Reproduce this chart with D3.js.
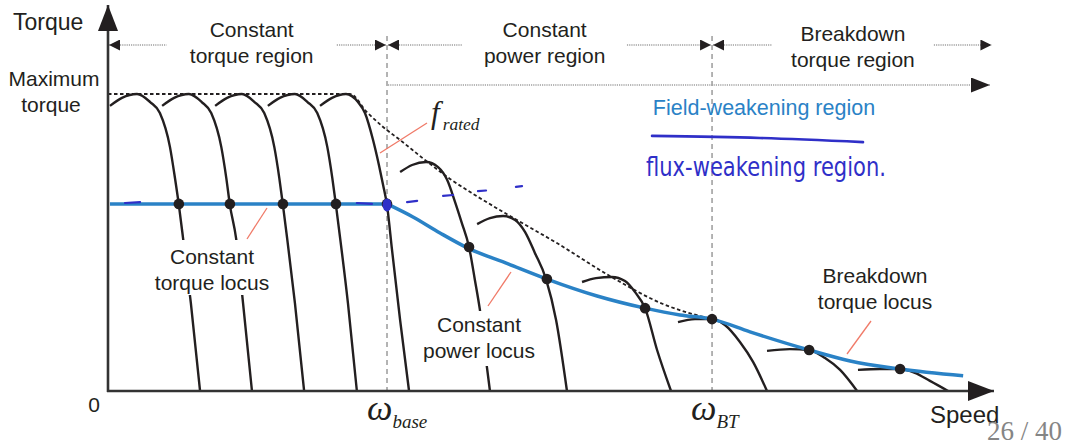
<!DOCTYPE html>
<html>
<head>
<meta charset="utf-8">
<script src="https://cdn.jsdelivr.net/npm/d3@7"></script>
<style>
  body { margin: 0; background: #fff; }
  svg { display: block; font-family: "Liberation Sans", Arial, sans-serif; }
</style>
</head>
<body>
<svg width="1065" height="447"></svg>
<script>
// speed in % of base speed, torque in % of maximum torque
const speedBase = 100
const speedBT = 216.5
const maxTorque = 100
const ratedTorque = 63

// torque-speed curves, one per supply frequency
const torqueCurves = [
  [[0.7, 96], [5, 98.7], [10.4, 100], [15.1, 97.3], [18.6, 93.6], [22.2, 82.2], [24, 71.7], [25.4, 62.6], [26.9, 51.5], [29.7, 29.6], [33, 0]],
  [[19.4, 96], [23.7, 98.7], [29, 100], [33.6, 97.3], [37, 93.6], [40.6, 82.2], [42.4, 71.7], [43.7, 62.6], [45.9, 51.5], [48.4, 29.6], [51.6, 0]],
  [[38.4, 96], [42.7, 98.7], [48, 100], [52.5, 97.3], [56, 93.6], [59.6, 82.2], [61.4, 71.7], [62.7, 62.6], [64.2, 51.5], [67, 29.6], [70.3, 0]],
  [[57.3, 96], [61.6, 98.7], [67, 100], [71.5, 97.3], [75, 93.6], [78.6, 82.2], [80.4, 71.7], [81.7, 62.6], [83.2, 51.5], [86, 29.6], [89.2, 0]],
  [[76, 96], [80.3, 98.7], [85.3, 100], [89.6, 97.3], [92.1, 93.6], [95, 84.5], [97.1, 76.1], [98.6, 69.4], [100, 62.6], [101.8, 47.5], [104.7, 23.9], [107.9, 0]],
  [[104.7, 73.7], [109, 76.1], [114, 77.1], [118.3, 75.4], [121.5, 71.2], [124.4, 63.6], [126.8, 56.6], [129.4, 48.5], [131.5, 37.4], [133.3, 27.3], [135.8, 8.1], [136.9, 0]],
  [[132.3, 56.2], [136.9, 58.2], [141.6, 58.9], [145.9, 57.6], [149.5, 53.5], [153, 46.5], [157, 37.7], [160.6, 23.9], [164.5, 0]],
  [[169.9, 36.7], [174.9, 38], [180.6, 38.4], [185.3, 37], [188.9, 33.3], [192.5, 27.9], [196.8, 13.8], [201.8, 0]],
  [[204.3, 23.2], [210.4, 24.2], [216.5, 24.2], [221.1, 22.2], [226.5, 16.5], [231.2, 9.8], [236.2, 0]],
  [[236.2, 13.5], [244.4, 14.1], [251.3, 13.8], [257, 11.1], [262.4, 7.1], [268.5, 0]],
  [[268.8, 7.1], [276.7, 7.4], [283.9, 7.4], [289.2, 6.1], [294.6, 3.4], [301.1, 0]]
]

// maximum torque envelope (dotted)
const envelope = [[0, 100], [86.7, 100], [92.8, 93.9], [98.6, 88.9], [104.7, 84.5], [113.6, 77.8], [122.6, 71.4],
  [131.5, 66], [142.3, 59.9], [160.9, 49.8], [179.9, 38.7], [198.9, 29.3], [216.5, 24.2]]

// operating locus (blue)
const torqueLocus = [[0.7, 63], [100, 63]]
const powerLocus = [[100, 63], [109.3, 58.6], [119, 53.2], [129, 48.1], [143.4, 42.8], [157.3, 37.7], [175.3, 32],
  [192.5, 27.9], [205, 25.6], [216.5, 24.2], [230.1, 19.9], [251.3, 13.8], [266, 10.1], [283.9, 7.4], [306.5, 5.1]]

const locusDots = [[25.4, 63], [43.7, 63], [62.7, 63], [81.7, 63], [100, 63], [129.4, 48.5], [157.3, 37.7],
  [192.5, 27.9], [216.5, 24.2], [251.3, 13.8], [283.9, 7.4]]

// handwritten marks
const penDashes = [
  [[6.1, 63.3], [11.5, 63.6]], [[89.2, 63.3], [94.6, 63]], [[107.2, 63.6], [110.8, 64]],
  [[120.1, 65.7], [123.7, 66]], [[132.6, 67.3], [135.5, 67.5]], [[146.2, 68.7], [148.4, 69]]
]
const penOverline = [[195, 85.9], [233.7, 85.2], [270.6, 83.8]]
const penText = "flux-weakening region."

const regions = [
  {from: 0, to: speedBase, lines: ["Constant", "torque region"], gap: [21, 82], dy: 0},
  {from: speedBase, to: speedBT, lines: ["Constant", "power region"], gap: [127, 186], dy: 0},
  {from: speedBT, to: 317, lines: ["Breakdown", "torque region"], gap: [238, 296], dy: 4}
]

const svg = d3.select("svg")
const ink = "#231f20"
const blue = "#2a82c6"
const pen = "#2f2fc8"
const leader = "#f07a68"

const x = d3.scaleLinear().domain([0, 317.2]).range([108, 993])
const y = d3.scaleLinear().domain([0, 100]).range([391, 94])

const line = d3.line().x(d => x(d[0])).y(d => y(d[1]))
const smooth = d3.line().x(d => x(d[0])).y(d => y(d[1])).curve(d3.curveMonotoneX)

// arrowheads
const defs = svg.append("defs")
function marker(id, w, h) {
  defs.append("marker").attr("id", id)
    .attr("viewBox", `0 0 ${w} ${h}`).attr("refX", w).attr("refY", h / 2)
    .attr("markerWidth", w).attr("markerHeight", h).attr("markerUnits", "userSpaceOnUse")
    .attr("orient", "auto-start-reverse")
    .append("path").attr("d", `M0,0L${w},${h / 2}L0,${h}Z`).attr("fill", ink)
}
marker("small", 11, 11)
marker("big", 19, 15)
marker("axis", 26, 20)

// vertical dashed boundaries
svg.selectAll(".vline").data([speedBase, speedBT]).join("line")
  .attr("x1", d => x(d)).attr("x2", d => x(d))
  .attr("y1", 36).attr("y2", y(0))
  .attr("stroke", "#8c8c8c").attr("stroke-width", 1.3).attr("stroke-dasharray", "5,4")

// region arrows
regions.forEach(r => {
  const ry = 45
  svg.append("line").attr("x1", x(r.from) + 1).attr("x2", x(r.gap[0]))
    .attr("y1", ry).attr("y2", ry)
    .attr("stroke", "#a0a0a0").attr("stroke-width", 1.4).attr("stroke-dasharray", "1.2,1")
    .attr("marker-start", "url(#small)")
  svg.append("line").attr("x1", x(r.gap[1])).attr("x2", x(r.to) - 1)
    .attr("y1", ry).attr("y2", ry)
    .attr("stroke", "#a0a0a0").attr("stroke-width", 1.4).attr("stroke-dasharray", "1.2,1")
    .attr("marker-end", "url(#small)")
  const cx = (x(r.gap[0]) + x(r.gap[1])) / 2
  r.lines.forEach((t, i) => {
    svg.append("text").attr("x", cx).attr("y", 37 + r.dy + i * 26)
      .attr("text-anchor", "middle").attr("font-size", 21).attr("fill", ink).text(t)
  })
})

// field-weakening arrow
svg.append("line").attr("x1", x(speedBase) + 1).attr("x2", 990).attr("y1", 85).attr("y2", 85)
  .attr("stroke", "#a0a0a0").attr("stroke-width", 1.4).attr("stroke-dasharray", "1.2,1")
  .attr("marker-end", "url(#big)")
svg.append("text").attr("x", 764).attr("y", 115).attr("text-anchor", "middle")
  .attr("font-size", 21.5).attr("fill", blue).text("Field-weakening region")

// max torque envelope
svg.append("path").datum(envelope).attr("d", smooth)
  .attr("fill", "none").attr("stroke", ink).attr("stroke-width", 1.8).attr("stroke-dasharray", "3.5,2.5")

// torque-speed curves
svg.selectAll(".curve").data(torqueCurves).join("path")
  .attr("d", smooth).attr("fill", "none").attr("stroke", ink).attr("stroke-width", 2.4)

// locus lines
svg.append("path").datum(torqueLocus).attr("d", line)
  .attr("fill", "none").attr("stroke", blue).attr("stroke-width", 3.5)
svg.append("path").datum(powerLocus).attr("d", smooth)
  .attr("fill", "none").attr("stroke", blue).attr("stroke-width", 3.5)

svg.selectAll(".dot").data(locusDots).join("circle")
  .attr("cx", d => x(d[0])).attr("cy", d => y(d[1])).attr("r", 5.3).attr("fill", ink)

// labels with white backing (they hide the curves behind)
const locusLabels = [
  {lines: ["Constant", "torque locus"], cx: 212, top: 240, w: 122, base: 264, from: [267, 208], to: [247, 239]},
  {lines: ["Constant", "power locus"], cx: 479, top: 311, w: 118, base: 332, from: [511, 272], to: [488, 306]},
  {lines: ["Breakdown", "torque locus"], cx: 875, top: 262, w: 0, base: 283, from: [871, 321], to: [847, 354]}
]
locusLabels.forEach(l => {
  if (l.w) svg.append("rect").attr("x", l.cx - l.w / 2).attr("y", l.top).attr("width", l.w).attr("height", 55).attr("fill", "#fff")
  l.lines.forEach((t, i) => {
    svg.append("text").attr("x", l.cx).attr("y", l.base + i * 25.5).attr("text-anchor", "middle")
      .attr("font-size", 21).attr("fill", ink).text(t)
  })
  svg.append("line").attr("x1", l.from[0]).attr("y1", l.from[1]).attr("x2", l.to[0]).attr("y2", l.to[1])
    .attr("stroke", leader).attr("stroke-width", 1.3)
})

// f rated
svg.append("line").attr("x1", 427).attr("y1", 123).attr("x2", 380).attr("y2", 153)
  .attr("stroke", leader).attr("stroke-width", 1.3)
const fr = svg.append("text").attr("x", 431).attr("y", 123)
  .attr("font-family", "'Liberation Serif', 'Times New Roman', serif").attr("font-style", "italic").attr("fill", ink)
fr.append("tspan").attr("font-size", 31).text("f")
fr.append("tspan").attr("font-size", 17.5).attr("dx", 3).attr("dy", 7).text("rated")

// axes
svg.append("line").attr("x1", x(0)).attr("x2", x(0)).attr("y1", y(0) + 1).attr("y2", 5)
  .attr("stroke", "#333").attr("stroke-width", 2.6).attr("marker-end", "url(#axis)")
svg.append("line").attr("x1", x(0) - 1).attr("x2", 994).attr("y1", y(0)).attr("y2", y(0))
  .attr("stroke", "#333").attr("stroke-width", 2.6).attr("marker-end", "url(#axis)")

svg.append("text").attr("x", 13).attr("y", 30).attr("font-size", 23).attr("fill", ink).text("Torque")
svg.append("text").attr("x", 930).attr("y", 423).attr("font-size", 24).attr("fill", ink).text("Speed")
svg.append("text").attr("x", 94).attr("y", 412).attr("text-anchor", "middle").attr("font-size", 21).attr("fill", ink).text("0")
svg.append("text").attr("x", 54).attr("y", 86).attr("text-anchor", "middle").attr("font-size", 21).attr("fill", ink).text("Maximum")
svg.append("text").attr("x", 51).attr("y", 112).attr("text-anchor", "middle").attr("font-size", 21).attr("fill", ink).text("torque")

const omegaTicks = [{v: speedBase, sub: "base", dx: -20}, {v: speedBT, sub: "BT", dx: -21}]
omegaTicks.forEach(o => {
  const t = svg.append("text").attr("x", x(o.v) + o.dx).attr("y", 420)
    .attr("font-family", "'Liberation Serif', 'Times New Roman', serif").attr("font-style", "italic").attr("fill", ink)
  t.append("tspan").attr("font-size", 36).text("ω")
  t.append("tspan").attr("font-size", 19).attr("dy", 8).text(o.sub)
})

// handwritten annotations
svg.selectAll(".dash").data(penDashes).join("path").attr("d", line)
  .attr("fill", "none").attr("stroke", pen).attr("stroke-width", 2.2).attr("stroke-linecap", "round")
svg.append("ellipse").attr("cx", x(speedBase)).attr("cy", y(ratedTorque) + 1).attr("rx", 4.5).attr("ry", 6.5).attr("fill", pen)
svg.append("path").datum(penOverline).attr("d", smooth)
  .attr("fill", "none").attr("stroke", pen).attr("stroke-width", 2.6).attr("stroke-linecap", "round")
svg.append("text").attr("x", 646).attr("y", 176).attr("font-family", "'DejaVu Sans', sans-serif")
  .attr("font-size", 27).attr("fill", pen).attr("textLength", 240).attr("lengthAdjust", "spacingAndGlyphs")
  .text(penText)

// page number
svg.append("text").attr("x", 1062).attr("y", 440).attr("text-anchor", "end")
  .attr("font-family", "'Liberation Serif', 'Times New Roman', serif").attr("font-size", 27).attr("fill", "#858585")
  .text("26 / 40")
</script>
</body>
</html>
